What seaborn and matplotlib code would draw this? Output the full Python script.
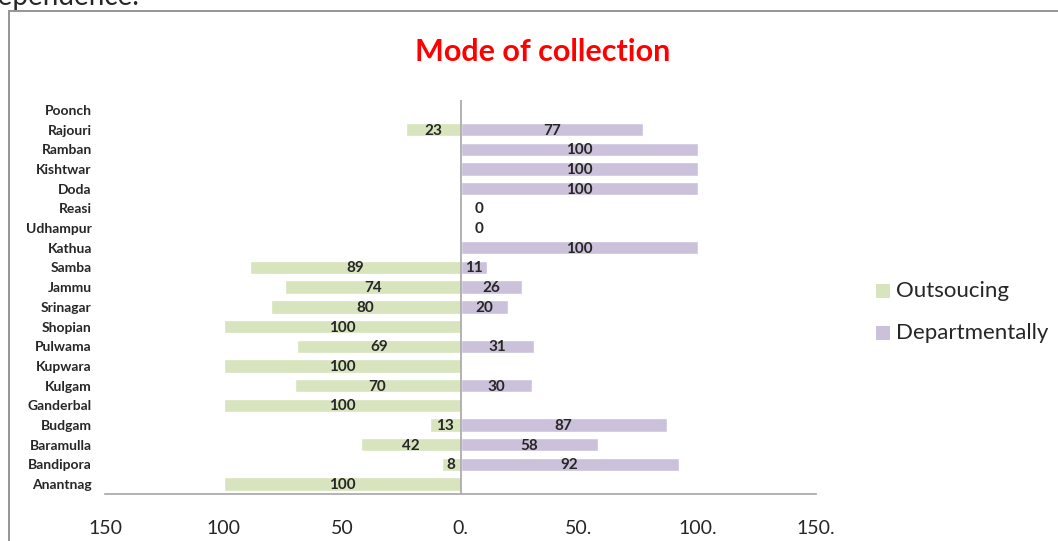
import numpy as np
import pandas as pd
import matplotlib
matplotlib.use("Agg")
import matplotlib.pyplot as plt
import seaborn as sns
from matplotlib.patches import Rectangle

districts = ["Poonch", "Rajouri", "Ramban", "Kishtwar", "Doda", "Reasi", "Udhampur",
             "Kathua", "Samba", "Jammu", "Srinagar", "Shopian", "Pulwama", "Kupwara",
             "Kulgam", "Ganderbal", "Budgam", "Baramulla", "Bandipora", "Anantnag"]
outsourcing = [np.nan, 23, np.nan, np.nan, np.nan, np.nan, np.nan, np.nan, 89, 74, 80,
               100, 69, 100, 70, 100, 13, 42, 8, 100]
departmental = [np.nan, 77, 100, 100, 100, 0, 0, 100, 11, 26, 20, np.nan, 31, np.nan,
                30, np.nan, 87, 58, 92, np.nan]
series_names = ["Outsoucing", "Departmentally"]
tick_values = [-150, -100, -50, 0, 50, 100, 150]
tick_labels = ["150", "100", "50", "0.", "50.", "100.", "150."]

sns.set_theme(style="white")
plt.rcParams["font.family"] = ["Lato", "DejaVu Sans"]

green = "#D7E4BD"
purple = "#CCC1DA"

df = pd.DataFrame({
    "district": districts * 2,
    "value": [-v for v in outsourcing] + departmental,
    "mode": [series_names[0]] * len(districts) + [series_names[1]] * len(districts),
})

fig = plt.figure(figsize=(10.58, 5.41), dpi=100)
ax = fig.add_axes([105 / 1058, 1 - 494 / 541, (816 - 105) / 1058, (494 - 100) / 541])

sns.barplot(data=df, y="district", x="value", hue="mode", order=districts,
            hue_order=series_names, palette=[green, purple], dodge=False,
            orient="h", width=0.68, ax=ax, legend=False, saturation=1)

ax.set_xlim(-150, 150)
ax.set_ylim(len(districts) - 0.5, -0.5)
ax.set_xticks(tick_values)
ax.set_xticklabels(tick_labels, fontsize=14)
ax.tick_params(axis="x", length=0, pad=19)
ax.set_yticks(range(len(districts)))
ax.set_yticklabels(districts, fontsize=10, fontweight="bold")
ax.tick_params(axis="y", length=0, pad=9.5)
ax.set_xlabel("")
ax.set_ylabel("")
for s in ["top", "right", "left"]:
    ax.spines[s].set_visible(False)
ax.spines["bottom"].set_color("#a6a6a6")
ax.spines["bottom"].set_linewidth(1.2)
ax.axvline(0, color="#a6a6a6", lw=1.2)

for i, (o, d) in enumerate(zip(outsourcing, departmental)):
    if not np.isnan(o):
        ax.text(-o / 2, i + 0.05, f"{o:g}", ha="center", va="center", fontsize=11,
                fontweight="bold")
    if not np.isnan(d):
        xpos = d / 2 if d > 0 else 8
        ax.text(xpos, i + 0.05, f"{d:g}", ha="center", va="center", fontsize=11,
                fontweight="bold")

fig.text(543 / 1058, 1 - 52 / 541, "Mode of collection", color="#FF0000",
         fontsize=22, fontweight="bold", ha="center", va="center")

# legend
for j, (name, col) in enumerate(zip(series_names, [green, purple])):
    yc = 1 - (291 + 42 * j) / 541
    fig.patches.append(Rectangle((876 / 1058, yc - 7 / 541), 14 / 1058, 14 / 541,
                                 transform=fig.transFigure, facecolor=col,
                                 edgecolor="none"))
    fig.text(896 / 1058, yc, name, fontsize=16, ha="left", va="center")

# chart frame and cropped document text
fig.patches.append(Rectangle((8.5 / 1058, -0.1), 1.2, 1 - 10.5 / 541 + 0.1,
                             transform=fig.transFigure, facecolor="none",
                             edgecolor="#8c8c8c", linewidth=1.3))
fig.text(-17 / 1058, 1 - 5 / 541, "dependence.", fontsize=20, ha="left",
         va="baseline")

fig.savefig("out.png", dpi=100)
